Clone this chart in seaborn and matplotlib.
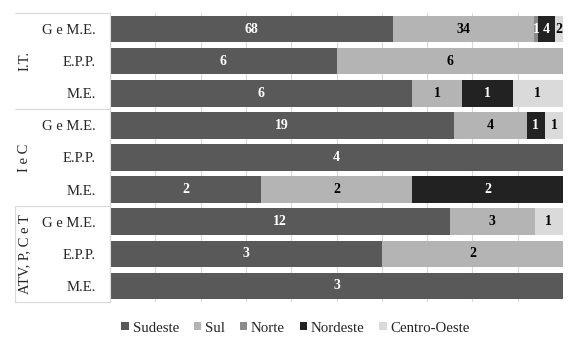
import numpy as np
import pandas as pd
import matplotlib
matplotlib.use("Agg")
import matplotlib.pyplot as plt
import matplotlib.transforms as mtransforms
from matplotlib.patches import Patch
import seaborn as sns

# dados
grupos = ['I.T.', 'I e C', 'ATV, P, C e T']
subcats = ['G e M.E.', 'E.P.P.', 'M.E.']
regioes = ['Sudeste', 'Sul', 'Norte', 'Nordeste', 'Centro-Oeste']

sudeste      = [68, 6, 6, 19, 4, 2, 12, 3, 3]
sul          = [34, 6, 1, 4, 0, 2, 3, 2, 0]
norte        = [1, 0, 0, 0, 0, 0, 0, 0, 0]
nordeste     = [4, 0, 1, 1, 0, 2, 0, 0, 0]
centro_oeste = [2, 0, 1, 1, 0, 0, 1, 0, 0]

cores = {'Sudeste': '#595959', 'Sul': '#b4b4b4', 'Norte': '#8a8a8a',
         'Nordeste': '#222222', 'Centro-Oeste': '#dadada'}
cor_texto = {'Sudeste': 'white', 'Sul': 'black', 'Norte': 'white',
             'Nordeste': 'white', 'Centro-Oeste': 'black'}

# tabela longa
linhas = [f'{g}|{s}' for g in grupos for s in subcats]
valores = np.array([sudeste, sul, norte, nordeste, centro_oeste], dtype=float)
totais = valores.sum(axis=0)
pct = valores / totais * 100
cum = np.cumsum(pct, axis=0)

registros = []
for i, reg in enumerate(regioes):
    for j, lin in enumerate(linhas):
        registros.append({'linha': lin, 'regiao': reg, 'n': valores[i, j],
                          'pct': pct[i, j], 'cum': cum[i, j]})
df = pd.DataFrame(registros)

sns.set_style('white')
plt.rcParams['font.family'] = ['Liberation Serif', 'DejaVu Serif']
fonte = ['Liberation Serif', 'DejaVu Serif']

fig = plt.figure(figsize=(5.72, 3.47), dpi=100)
ax = fig.add_axes([110 / 572, 1 - 302 / 347, 453 / 572, 289 / 347])

# barras empilhadas: desenha o acumulado de tras para frente
for reg in regioes[::-1]:
    sub = df[df['regiao'] == reg]
    sns.barplot(data=sub, x='cum', y='linha', order=linhas, color=cores[reg],
                width=0.83, orient='h', linewidth=0, saturation=1, ax=ax)

# rotulos nos segmentos
for _, r in df.iterrows():
    if r['n'] > 0:
        y = linhas.index(r['linha'])
        ax.text(r['cum'] - r['pct'] / 2, y, f"{int(r['n'])}", ha='center', va='center',
                color=cor_texto[r['regiao']], fontsize=10, fontweight='bold', family=fonte)

ax.set_xlim(0, 100)
ax.set_ylim(8.5, -0.5)
ax.set_xticks(np.arange(0, 101, 10))
ax.set_xticklabels([])
ax.tick_params(axis='x', length=0)
ax.tick_params(axis='y', length=0, pad=10)
ax.xaxis.grid(True, color='#d9d9d9', linewidth=0.8)
ax.set_axisbelow(True)
ax.set_yticks(range(len(linhas)))
ax.set_yticklabels([l.split('|')[1] for l in linhas], fontsize=10.5, family=fonte)
ax.set_xlabel('')
ax.set_ylabel('')
for s in ['top', 'right', 'bottom']:
    ax.spines[s].set_visible(False)
ax.spines['left'].set_color('#d9d9d9')
ax.spines['left'].set_linewidth(0.8)

# rotulos dos grupos e separadores
trans = mtransforms.blended_transform_factory(fig.transFigure, ax.transData)
for k, g in enumerate(grupos):
    ax.text(25 / 572, 3 * k + 1, g, rotation=90, ha='center', va='center',
            fontsize=10.5, family=fonte, transform=trans)
for yb in [-0.5, 2.5, 5.5, 8.5]:
    ax.plot([15 / 572, 110 / 572], [yb, yb], color='#d9d9d9', linewidth=0.8,
            transform=trans, clip_on=False)
ax.plot([15 / 572, 15 / 572], [5.5, 8.5], color='#d9d9d9', linewidth=0.8,
        transform=trans, clip_on=False)

handles = [Patch(facecolor=cores[r], edgecolor='none', label=r) for r in regioes]
fig.legend(handles=handles, loc='center', bbox_to_anchor=(0.517, 19 / 347), ncol=5,
           frameon=False, prop={'family': fonte, 'size': 10.7},
           handlelength=0.5, handleheight=0.5, handletextpad=0.25, columnspacing=1.0)

fig.savefig('out.png', dpi=100)
